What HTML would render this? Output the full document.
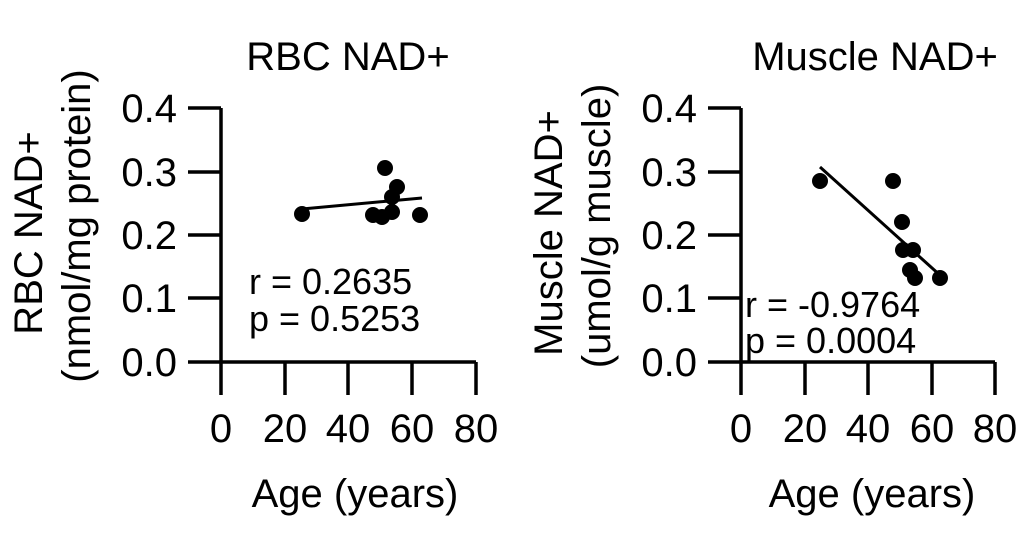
<!DOCTYPE html>
<html><head><meta charset="utf-8"><style>
body{margin:0;background:#fff;}
svg{display:block;font-family:"Liberation Sans",Arial,sans-serif;}
</style></head><body>
<svg width="1024" height="538" viewBox="0 0 1024 538" xmlns="http://www.w3.org/2000/svg">
<g stroke="#000" stroke-width="3.5" fill="none">
<path d="M221,108V395M188,108H221M188,172H221M188,235H221M188,298H221M188,362H476M285,362V395M348,362V395M412,362V395M476,362V395"/>
<path d="M741,108V395M708,108H741M708,172H741M708,235H741M708,298H741M708,362H995M805,362V395M868,362V395M932,362V395M995,362V395"/>
<line x1="302" y1="209" x2="422" y2="198" stroke-width="3"/>
<line x1="820" y1="167" x2="942" y2="277" stroke-width="3"/>
</g>
<g fill="#000">
<circle cx="302" cy="214" r="8"/><circle cx="385" cy="168" r="8"/><circle cx="397" cy="187" r="8"/><circle cx="392" cy="197" r="8"/><circle cx="373" cy="215" r="8"/><circle cx="382" cy="217" r="8"/><circle cx="392" cy="212" r="8"/><circle cx="420" cy="215" r="8"/>
<circle cx="820" cy="181" r="8"/><circle cx="893" cy="181" r="8"/><circle cx="902" cy="222" r="8"/><circle cx="903" cy="250" r="8"/><circle cx="913" cy="250" r="8"/><circle cx="910" cy="270" r="8"/><circle cx="915" cy="278" r="8"/><circle cx="940" cy="278" r="8"/>
</g>
<g font-size="40" fill="#000">
<g text-anchor="end">
<text x="177" y="122">0.4</text><text x="177" y="186">0.3</text><text x="177" y="249">0.2</text><text x="177" y="312">0.1</text><text x="177" y="376">0.0</text>
<text x="697" y="122">0.4</text><text x="697" y="186">0.3</text><text x="697" y="249">0.2</text><text x="697" y="312">0.1</text><text x="697" y="376">0.0</text>
</g>
<g text-anchor="middle">
<text x="221" y="442">0</text><text x="285" y="442">20</text><text x="348" y="442">40</text><text x="412" y="442">60</text><text x="476" y="442">80</text>
<text x="741" y="442">0</text><text x="805" y="442">20</text><text x="868" y="442">40</text><text x="932" y="442">60</text><text x="995" y="442">80</text>
<text x="348" y="70">RBC NAD+</text><text x="875" y="70">Muscle NAD+</text>
<text x="355" y="507">Age (years)</text><text x="872" y="507">Age (years)</text>
<text transform="translate(42,233) rotate(-90)">RBC NAD+</text>
<text transform="translate(90,226) rotate(-90)">(nmol/mg protein)</text>
<text transform="translate(562,233) rotate(-90)">Muscle NAD+</text>
<text transform="translate(610,226) rotate(-90)">(umol/g muscle)</text>
</g>
</g>
<g font-size="36" fill="#000">
<text x="249" y="294">r = 0.2635</text><text x="249" y="331">p = 0.5253</text>
<text x="745" y="317">r = -0.9764</text><text x="745" y="353">p = 0.0004</text>
</g>
</svg>
</body></html>
